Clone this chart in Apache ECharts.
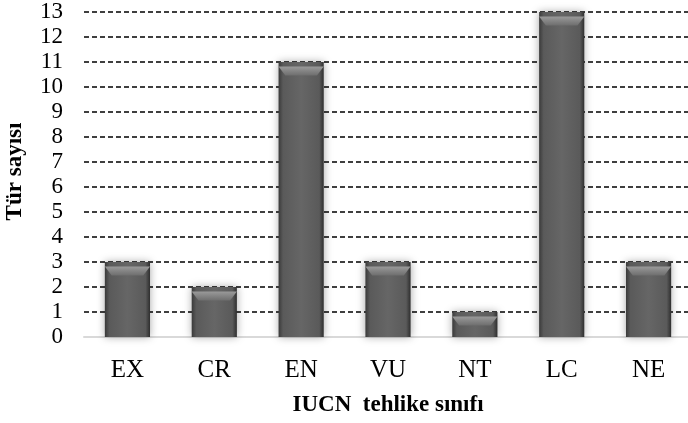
<!DOCTYPE html>
<html><head><meta charset="utf-8">
<script src="https://cdn.jsdelivr.net/npm/echarts@6/dist/echarts.min.js"></script>
<style>html,body{margin:0;padding:0;background:#fff}#c{width:688px;height:423px}</style>
</head><body><div id="c"></div>
<script>
const categories = ['EX','CR','EN','VU','NT','LC','NE'];
const values = [3,2,11,3,1,13,3];
const yTicks = [0,13,1];
const xName = 'IUCN  tehlike sınıfı';
const yName = 'Tür sayısı';

const chart = echarts.init(document.getElementById('c'));
const font = '"Liberation Serif","Times New Roman",serif';
chart.setOption({
  animation:false,
  grid:{left:84,width:608,top:12,height:325,containLabel:false,outerBoundsMode:'none'},
  xAxis:{
    type:'category', data:categories,
    axisLine:{lineStyle:{color:'#d9d9d9',width:2}},
    axisTick:{show:false},
    axisLabel:{color:'#000',fontFamily:font,fontSize:25,margin:21},
    name:xName, nameLocation:'middle', nameGap:57,
    nameTextStyle:{color:'#000',fontFamily:font,fontSize:23,fontWeight:'bold'}
  },
  yAxis:{
    type:'value', min:yTicks[0], max:yTicks[1], interval:yTicks[2],
    axisLine:{show:false}, axisTick:{show:false},
    axisLabel:{color:'#000',fontFamily:font,fontSize:23,margin:21},
    splitLine:{lineStyle:{color:'#000',type:[5,3],width:1.5}},
    name:yName, nameLocation:'middle', nameGap:57, nameRotate:90,
    nameTextStyle:{color:'#000',fontFamily:font,fontSize:23,fontWeight:'bold',padding:[0,0,0,6]}
  },
  series:[{
    type:'bar', data:values, barWidth:'52%', barGap:'-100%', z:2,
    itemStyle:{
      color:new echarts.graphic.LinearGradient(0,0,1,0,[
        {offset:0,color:'#3a3a3a'},{offset:0.1,color:'#5a5a5a'},
        {offset:0.5,color:'#666666'},{offset:0.9,color:'#5a5a5a'},{offset:1,color:'#2e2e2e'}]),
      shadowColor:'rgba(0,0,0,0.35)', shadowBlur:8
    }
  },{
    type:'pictorialBar', data:values, barWidth:'52%', barGap:'-100%', z:3,
    symbol:'path://M0,0 L20,0 L17,3 L3,3 Z', symbolSize:['100%',9],
    symbolPosition:'end', symbolOffset:[0,'50%'],
    itemStyle:{color:new echarts.graphic.LinearGradient(0,0,0,1,[
      {offset:0,color:'#9a9a9a'},{offset:1,color:'#6e6e6e'}])}
  }]
});
</script></body></html>
